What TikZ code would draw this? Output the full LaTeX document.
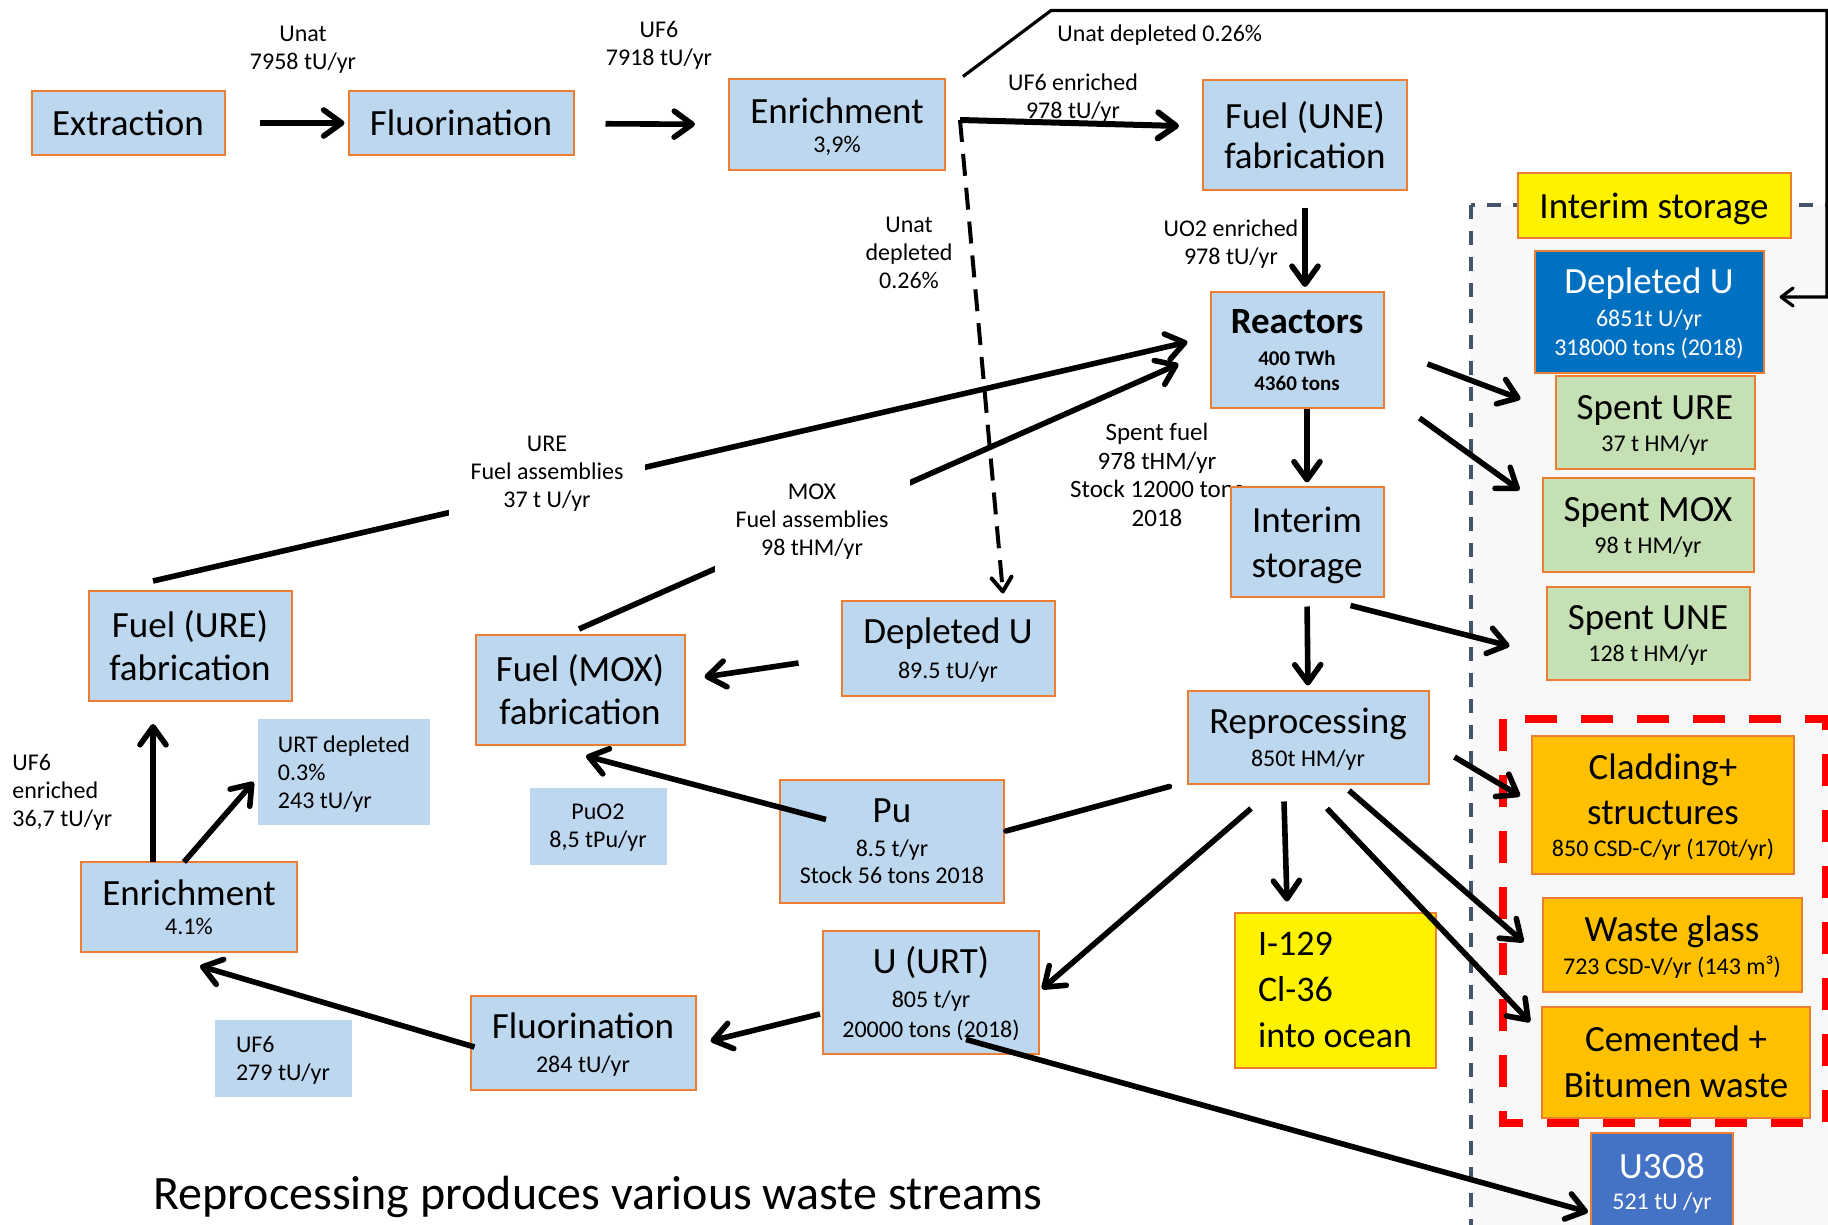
\documentclass[tikz,border=0pt]{standalone}
\usepackage{fontspec}
\setmainfont{Carlito}
\usetikzlibrary{arrows.meta,calc}

\definecolor{boxfill}{HTML}{BDD7EE}
\definecolor{boxline}{HTML}{ED7D31}
\definecolor{deepblue}{HTML}{0070C0}
\definecolor{midblue}{HTML}{4472C4}
\definecolor{spentgreen}{HTML}{C5E0B4}
\definecolor{wasteorange}{HTML}{FFC000}
\definecolor{panelline}{HTML}{44546A}
\definecolor{panelfill}{HTML}{F8F8F8}

\newcommand\bigtxt{\fontsize{18.5}{21.5}\selectfont}
\newcommand\smtxt{\fontsize{12}{14}\selectfont}
\newcommand\rbigtxt{\fontsize{18.5}{22.5}\selectfont}
\newcommand\rsmtxt{\fontsize{12}{14}\selectfont}
% last line of a box: no depth, so the text sits like in the slide
\newcommand\nd[1]{\raisebox{0pt}[\height][0pt]{#1}}

\tikzset{
	stepbox/.style={draw=boxline, fill=boxfill, line width=1pt, font=\bigtxt},
	plainbox/.style={fill=boxfill, align=left, font=\smtxt},
	sz/.style 2 args={minimum width=#1*0.5pt, minimum height=#2*0.5pt},
	lbl/.style={font=\smtxt},
	flow/.style={line width=2.8pt, -{Straight Barb[length=9pt,width=13pt,round]}},
	link/.style={line width=2.8pt, line cap=round},
	dflow/.style={line width=2pt, dash pattern=on 11pt off 6pt, -{Straight Barb[length=7pt,width=10pt,round]}},
	toplink/.style={line width=1.6pt, -{Straight Barb[length=6pt,width=9pt,round]}}
}

\begin{document}
\begin{tikzpicture}[x=0.5pt, y=-0.5pt]
	\tikzstyle{every node}=[align=center, inner sep=0pt]
	\useasboundingbox (0,0) rectangle (1828,1225);
	\clip (0,0) rectangle (1828,1225);

	% storage area
	\draw[panelline, fill=panelfill, line width=1.75pt, dash pattern=on 7pt off 6pt] (1471,205) rectangle (1880,1280);
	\draw[red, line width=4pt, dash pattern=on 16pt off 12pt] (1503,719) rectangle (1826,1123);

	\node[lbl, font=\fontsize{12.5}{14.25}\selectfont] (lblspent) at (1157,475) {Spent fuel\\978 tHM/yr\\Stock 12000 tons\\2018};

	\node[stepbox, sz={193}{64}] (extract) at (128,123) {Extraction};
	\node[stepbox, sz={225}{64}] (fluorA) at (461,123) {Fluorination};
	\node[stepbox, sz={216}{91}] (enrichA) at (837,125) {Enrichment\\[-7pt]{\smtxt\nd{3,9\%}}};
	\node[stepbox, sz={204}{110}] (fuelUNE) at (1305,135) {Fuel (UNE)\\[-1.5pt]fabrication};
	\node[stepbox, sz={173}{116}] (reactors) at (1297,350) {\textbf{Reactors}\\[-5.5pt]{\fontsize{10.5}{12.5}\selectfont\bfseries 400 TWh}\\[-9pt]{\fontsize{10.5}{12.5}\selectfont\bfseries 4360 tons}};
	\node[stepbox, sz={153}{109}, font=\rbigtxt] (interim) at (1307,542) {Interim\\\nd{storage}};
	\node[stepbox, sz={241}{93}, font=\rbigtxt] (reprocess) at (1308,737) {Reprocessing\\[-6pt]{\rsmtxt\nd{850t HM/yr}}};
	\node[stepbox, sz={213}{95}] (depU) at (948,648) {Depleted U\\[-4pt]{\smtxt\nd{89.5 tU/yr}}};
	\node[stepbox, sz={209}{110}] (fuelMOX) at (580,690) {Fuel (MOX)\\fabrication};
	\node[stepbox, sz={203}{110}] (fuelURE) at (190,646) {Fuel (URE)\\fabrication};
	\node[plainbox, sz={172}{106}] (urtdep) at (344,772) {URT depleted\\0.3\%\\\nd{243 tU/yr}};
	\node[stepbox, sz={216}{90}] (enrichB) at (189,907) {Enrichment\\[-7pt]{\smtxt\nd{4.1\%}}};
	\node[plainbox, align=center, sz={137}{77}] (puoxide) at (598,826) {PuO2\\\nd{8,5 tPu/yr}};
	\node[stepbox, sz={224}{123}] (pu) at (892,841) {Pu\\[-4.5pt]{\smtxt 8.5 t/yr}\\[-8pt]{\smtxt Stock 56 tons 2018}};
	\node[stepbox, sz={216}{123}] (uurt) at (931,992) {U (URT)\\[-4.5pt]{\smtxt 805 t/yr}\\[-6.5pt]{\smtxt\nd{20000 tons (2018)}}};
	\node[stepbox, sz={225}{94}] (fluorB) at (583,1043) {Fluorination\\[-4.5pt]{\smtxt\nd{284 tU/yr}}};
	\node[plainbox, sz={137}{77}] (uf6box) at (283,1058) {UF6\\\nd{279 tU/yr}};

	\node[stepbox, fill=yellow, sz={273}{65}, font=\rbigtxt] (storetag) at (1654,206) {\nd{Interim storage}};
	\node[stepbox, fill=deepblue, text=white, sz={229}{122}, font=\rbigtxt] (depUR) at (1649,312) {Depleted U\\[-6pt]{\rsmtxt 6851t U/yr}\\[-8pt]{\rsmtxt\nd{318000 tons (2018)}}};
	\node[stepbox, fill=spentgreen, sz={199}{93}, font=\rbigtxt] (spURE) at (1655,423) {Spent URE\\[-6.5pt]{\rsmtxt\nd{37 t HM/yr}}};
	\node[stepbox, fill=spentgreen, sz={211}{93}, font=\rbigtxt] (spMOX) at (1648,525) {Spent MOX\\[-6.5pt]{\rsmtxt\nd{98 t HM/yr}}};
	\node[stepbox, fill=spentgreen, sz={203}{93}, font=\rbigtxt] (spUNE) at (1648,633) {Spent UNE\\[-6.5pt]{\rsmtxt\nd{128 t HM/yr}}};
	\node[stepbox, fill=wasteorange, sz={262}{138}, font=\rbigtxt] (cladding) at (1663,805) {Cladding+\\structures\\[-6.5pt]{\rsmtxt\nd{850 CSD-C/yr (170t/yr)}}};
	\node[stepbox, fill=wasteorange, sz={259}{94}, font=\rbigtxt] (glass) at (1672,945) {Waste glass\\[-6pt]{\rsmtxt\nd{723 CSD-V/yr (143 m³)}}};
	\node[stepbox, fill=wasteorange, sz={268}{111}, font=\rbigtxt] (cement) at (1676,1062) {Cemented +\\[0.5pt]Bitumen waste};
	\node[stepbox, fill=midblue, text=white, sz={142}{100}, font=\rbigtxt] (oxide) at (1662,1183) {U3O8\\[-7pt]{\rsmtxt 521 tU /yr}};
	\node[stepbox, fill=yellow, sz={201}{155}, align=left, font=\fontsize{18}{23}\selectfont] (iodine) at (1335,990) {I-129\\Cl-36\\into ocean};

	\coordinate (split) at ($(enrichA.east)+(14,-5)$);

	\draw[flow, shorten <=17pt, shorten >=1.5pt] (extract) -- (fluorA);
	\draw[flow, shorten <=15.5pt, shorten >=16.5pt] (fluorA) -- (enrichA);
	\draw[flow, line width=3pt] (split) -- ($(fuelUNE.west)+(-23,-9)$);
	\draw[dflow] (split) -- ($(depU.north)+(55,-6)$);
	\draw[toplink] ($(enrichA.north east)+(17,-2)$) -- ++(88,-66) -- ++(776,0) |- ($(depUR.east)+(15,-15)$);
	\draw[flow, shorten <=8.5pt, shorten >=2pt] (fuelUNE.south) -- (fuelUNE.south |- reactors.north);
	\draw[flow, shorten >=2pt] (reactors.south -| interim) -- (interim.north);
	\draw[flow, shorten <=4.5pt, shorten >=2pt] (interim.south) -- (reprocess.north);
	\draw[flow] ($(reactors.east)+(43,14)$) -- ($(spURE.west)+(-34,-24)$);
	\draw[flow] ($(reactors.south east)+(35,9)$) -- ($(spMOX.west)+(-22,-35)$);
	\draw[flow] ($(interim.south east)+(-34,8)$) -- ($(spUNE.west)+(-36,13)$);
	\draw[flow] ($(fuelURE.north)+(-37,-9)$) -- ($(reactors.west)+(-22,-8)$);
	\draw[flow] ($(fuelMOX.north)+(-1,-5)$) -- ($(reactors.west)+(-31,14)$);
	\draw[flow] ($(depU.west)+(-42,15)$) -- ($(fuelMOX.east)+(19,-13)$);
	\draw[flow] ($(pu.north west)+(47,41)$) -- ($(fuelMOX.south)+(6,10)$);
	\draw[link] ($(reprocess.south west)+(-17,2)$) -- ($(pu.east)+(1,-10)$);
	\draw[flow] ($(reprocess.south)+(-57,24)$) -- ($(uurt.east)+(2,-3)$);
	\draw[flow] ($(reprocess.south)+(-24,17)$) -- ($(iodine.north)+(-48,-10)$);
	\draw[flow] ($(reprocess.south)+(19,24)$) -- ($(cement.west)+(-11,-40)$);
	\draw[flow] ($(reprocess.south)+(41,6)$) -- ($(glass.west)+(-18,-3)$);
	\draw[flow] ($(reprocess.east)+(25,20)$) -- ($(cladding.west)+(-11,-9)$);
	\draw[flow] ($(uurt.south)+(35,-15)$) -- ($(oxide.west)+(-2,29)$);
	\draw[flow] ($(uurt.west)+(-2,22)$) -- ($(fluorB.east)+(14,-2)$);
	\draw[flow] ($(fluorB.west)+(5,4)$) -- ($(enrichB.south)+(11,13)$);
	\draw[flow] ($(enrichB.north)+(-36,1)$) -- ($(fuelURE.south)+(-37,22)$);
	\draw[flow] ($(enrichB.north)+(-5,1)$) -- ($(urtdep.west)+(-4,10)$);

	\node[lbl] (lblunat) at (303,50) {Unat\\7958 tU/yr};
	\node[lbl] (lbluf) at (659,45) {UF6\\7918 tU/yr};
	\node[lbl] (lblufenr) at (1073,98) {UF6 enriched\\978 tU/yr};
	\node[lbl, anchor=base west] (lbldeptop) at (1057,42) {Unat depleted 0.26\%};
	\node[lbl] (lbldep) at (909,253) {Unat\\depleted\\0.26\%};
	\node[lbl] (lbluo) at (1231,244) {UO2 enriched\\978 tU/yr};
	\node[lbl, fill=white, sz={196}{100}] (lblure) at (547,474) {URE\\Fuel assemblies\\37 t U/yr};
	\node[lbl, fill=white, sz={195}{108}] (lblmox) at (812,522) {MOX\\Fuel assemblies\\98 tHM/yr};
	\node[lbl, align=left, anchor=west] (lbluren) at (12,792) {UF6\\enriched\\36,7 tU/yr};
	\node[anchor=base west, font=\fontsize{24}{28}\selectfont] (title) at (153,1209) {Reprocessing produces various waste streams};
\end{tikzpicture}
\end{document}
